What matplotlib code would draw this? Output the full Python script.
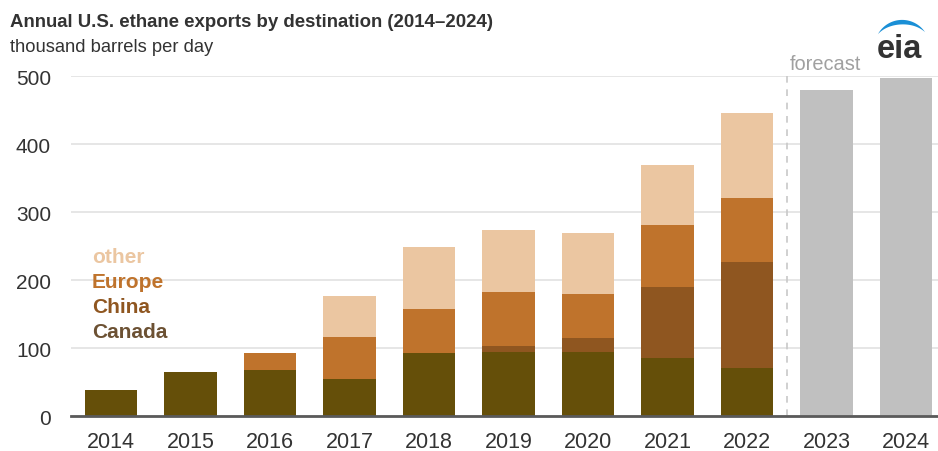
import matplotlib
matplotlib.use("Agg")
import matplotlib.pyplot as plt
from matplotlib.patches import Polygon
import numpy as np

plt.rcParams['font.family'] = ['Liberation Sans', 'DejaVu Sans']

# annual exports, thousand barrels per day
years = ['2014', '2015', '2016', '2017', '2018', '2019', '2020', '2021', '2022', '2023', '2024']
canada = [38, 65, 68, 54, 92, 94, 94, 86, 71]
china = [0, 0, 0, 0, 0, 9, 20, 104, 156]
europe = [0, 0, 24, 62, 66, 79, 65, 91, 94]
other = [0, 0, 0, 61, 90, 92, 90, 88, 125]
forecast = [479, 497]

c_canada = '#654f09'
c_china = '#8f5620'
c_europe = '#bf732c'
c_other = '#ebc6a1'
c_fcst = '#c0c0c0'

fig = plt.figure(figsize=(9.38, 4.52), dpi=100)
ax = fig.add_axes([0.0757, 0.0774, 0.9243, 0.7522])

hist_x = np.arange(len(canada))
fc_x = np.arange(len(canada), len(years))
w = 0.66

bottom = np.zeros(len(canada))
for vals, col in [(canada, c_canada), (china, c_china), (europe, c_europe), (other, c_other)]:
    ax.bar(hist_x, vals, w, bottom=bottom, color=col, zorder=3)
    bottom += np.array(vals)
ax.bar(fc_x, forecast, w, color=c_fcst, zorder=3)

ax.set_xlim(-0.5, 10.4)
ax.set_ylim(0, 500)
ax.set_yticks([0, 100, 200, 300, 400, 500])
ax.set_xticks(np.arange(len(years)))
ax.set_xticklabels(years)
ax.tick_params(axis='both', length=0, labelcolor='#333333')
ax.tick_params(axis='y', pad=14.4, labelsize=15)
ax.tick_params(axis='x', pad=11, labelsize=15.5)
ax.grid(axis='y', color='#e1e1e1', linewidth=1.2, zorder=0)
for s in ['top', 'right', 'left']:
    ax.spines[s].set_visible(False)
ax.spines['bottom'].set_color('#5a5a5a')
ax.spines['bottom'].set_linewidth(2)
ax.spines['bottom'].set_zorder(4)

# forecast divider
ax.axvline(8.5, color='#c8c8c8', linestyle=(0, (4, 4)), linewidth=1.2, zorder=2)
ax.text(8.54, 518, 'forecast', color='#a0a0a0', fontsize=14.4, ha='left', va='center',
        clip_on=False)

# legend labels
labels = [('other', c_other), ('Europe', c_europe), ('China', c_china), ('Canada', '#6c5133')]
for i, (txt, col) in enumerate(labels):
    ax.text(-0.24, 235 - i * 36.7, txt, color=col, fontsize=15, fontweight='bold',
            ha='left', va='center')

fig.text(0.0107, 0.951, 'Annual U.S. ethane exports by destination (2014\u20132024)',
         fontsize=13.4, fontweight='bold', color='#333333', ha='left', va='center')
fig.text(0.0107, 0.896, 'thousand barrels per day', fontsize=13.25, color='#333333',
         ha='left', va='center')

# eia logo, drawn in pixel units of its own small axes
lax = fig.add_axes([860 / 938, 1 - 70 / 452, 78 / 938, 55 / 452])
lax.set_xlim(0, 78)
lax.set_ylim(55, 0)
lax.axis('off')
lax.text(39.5, 43, 'eia', fontsize=23.5, fontweight='bold', color='#333333',
         ha='center', va='baseline')
cx, cy, r = 42.1, 33.5, 27.6
th = np.radians(np.linspace(209, 326, 60))
thick = 4.5 * np.sin(np.linspace(0, np.pi, 60))
outer = np.column_stack([cx + r * np.cos(th), cy + r * np.sin(th)])
inner = np.column_stack([cx + (r - thick) * np.cos(th), cy + (r - thick) * np.sin(th)])
lax.add_patch(Polygon(np.vstack([outer, inner[::-1]]), closed=True,
                      facecolor='#1a8fd6', edgecolor='none'))

fig.savefig('out.png', dpi=100)
